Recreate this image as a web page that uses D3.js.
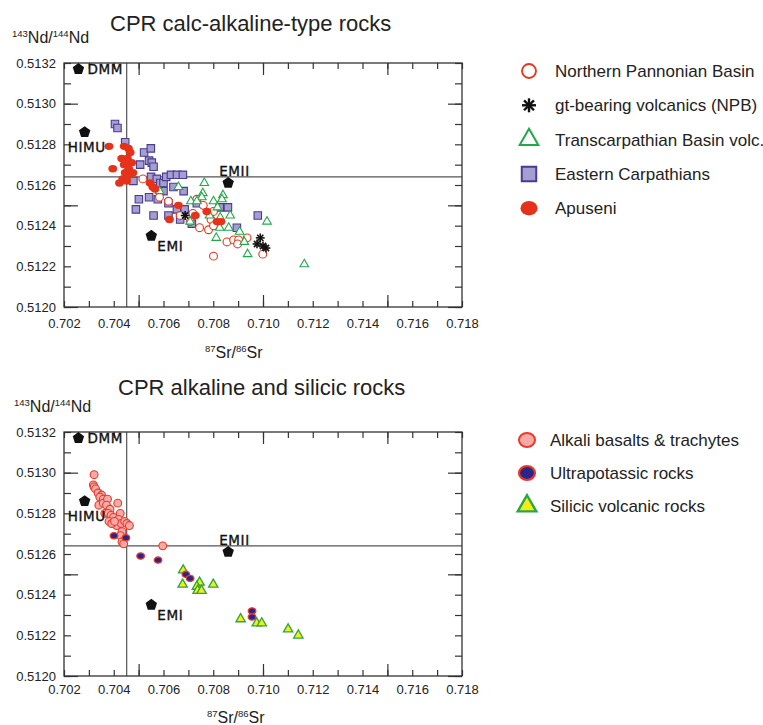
<!DOCTYPE html>
<html>
<head>
<meta charset="utf-8">
<script src="https://cdn.jsdelivr.net/npm/d3@7"></script>
<style>
  body { margin: 0; background: #fff; }
  svg { display: block; font-family: "Liberation Sans", Arial, sans-serif; }
</style>
</head>
<body>
<div id="chart"></div>
<script>
// axis labels
var xTickLabels = ['0.702', '0.704', '0.706', '0.708', '0.710', '0.712', '0.714', '0.716', '0.718'];
var yTickLabels = ['0.5120', '0.5122', '0.5124', '0.5126', '0.5128', '0.5130', '0.5132'];
var xMajorTicks = [0.705, 0.710, 0.715];
var yMajorTicks = [0.5120, 0.5125, 0.5130];
var refLineSr = 0.70452, refLineNd = 0.51264;

// mantle end-members
var refNames = ['DMM', 'HIMU', 'EMII', 'EMI'];
var refSr = [0.70258, 0.70283, 0.70860, 0.70551];
var refNd = [0.51317, 0.51286, 0.51261, 0.51235];

// top panel: [87Sr/86Sr, 143Nd/144Nd]
var northernPannonian = [
  [0.70517, 0.51263], [0.70584, 0.51254], [0.70620, 0.51252], [0.70667, 0.51245], [0.70707, 0.51242],
  [0.70734, 0.51253], [0.70745, 0.51239], [0.70781, 0.51238], [0.70801, 0.51247], [0.70791, 0.51243],
  [0.70801, 0.51240], [0.70855, 0.51232], [0.70882, 0.51233], [0.70902, 0.51233], [0.70898, 0.51231],
  [0.70936, 0.51234], [0.70999, 0.51226], [0.70801, 0.51225], [0.70718, 0.51246], [0.70760, 0.51250]
];
var gtBearing = [
  [0.70687, 0.51245], [0.70989, 0.51234], [0.70976, 0.51231], [0.71000, 0.51230], [0.71012, 0.51229]
];
var transcarpathian = [
  [0.70584, 0.51257], [0.70660, 0.51259], [0.70764, 0.51261], [0.70758, 0.51256], [0.70754, 0.51254],
  [0.70710, 0.51252], [0.70734, 0.51252], [0.70801, 0.51252], [0.70839, 0.51255], [0.70835, 0.51253],
  [0.70817, 0.51249], [0.70868, 0.51245], [0.70828, 0.51244], [0.70785, 0.51245], [0.70826, 0.51239],
  [0.70862, 0.51239], [0.70812, 0.51234], [0.70906, 0.51237], [0.70925, 0.51232], [0.70938, 0.51226],
  [0.71016, 0.51242], [0.71166, 0.51221], [0.70707, 0.51242]
];
var easternCarpathians = [
  [0.70405, 0.51290], [0.70415, 0.51288], [0.70446, 0.51281], [0.70522, 0.51276], [0.70549, 0.51278],
  [0.70542, 0.51272], [0.70553, 0.51271], [0.70560, 0.51269], [0.70506, 0.51270], [0.70479, 0.51262],
  [0.70550, 0.51264], [0.70573, 0.51263], [0.70587, 0.51261], [0.70600, 0.51261], [0.70611, 0.51264],
  [0.70630, 0.51265], [0.70654, 0.51265], [0.70678, 0.51265], [0.70640, 0.51259], [0.70681, 0.51257],
  [0.70542, 0.51254], [0.70577, 0.51253], [0.70501, 0.51253], [0.70489, 0.51248], [0.70560, 0.51245],
  [0.70620, 0.51245], [0.70620, 0.51251], [0.70654, 0.51248], [0.70685, 0.51248], [0.70667, 0.51243],
  [0.70714, 0.51241], [0.70734, 0.51251], [0.70826, 0.51249], [0.70859, 0.51249], [0.70895, 0.51239],
  [0.70979, 0.51245], [0.70600, 0.51257]
];
var apuseni = [
  [0.70381, 0.51279], [0.70396, 0.51268], [0.70423, 0.51261], [0.70442, 0.51279], [0.70459, 0.51278],
  [0.70466, 0.51276], [0.70432, 0.51273], [0.70455, 0.51273], [0.70472, 0.51271], [0.70442, 0.51270],
  [0.70460, 0.51268], [0.70477, 0.51266], [0.70446, 0.51266], [0.70466, 0.51265], [0.70436, 0.51263],
  [0.70452, 0.51262], [0.70546, 0.51261], [0.70557, 0.51259], [0.70566, 0.51258], [0.70660, 0.51250],
  [0.70624, 0.51243], [0.70728, 0.51245], [0.70774, 0.51247], [0.70815, 0.51242], [0.70831, 0.51242]
];

// bottom panel
var alkaliBasalts = [
  [0.70321, 0.51299], [0.70318, 0.51294], [0.70321, 0.51293], [0.70327, 0.51292], [0.70337, 0.51290],
  [0.70351, 0.51289], [0.70344, 0.51288], [0.70358, 0.51287], [0.70340, 0.51284], [0.70358, 0.51285],
  [0.70375, 0.51287], [0.70371, 0.51284], [0.70385, 0.51282], [0.70364, 0.51280], [0.70378, 0.51280],
  [0.70389, 0.51279], [0.70399, 0.51278], [0.70381, 0.51276], [0.70405, 0.51276], [0.70416, 0.51285],
  [0.70426, 0.51280], [0.70419, 0.51277], [0.70412, 0.51274], [0.70430, 0.51275], [0.70444, 0.51276],
  [0.70453, 0.51275], [0.70463, 0.51274], [0.70433, 0.51271], [0.70427, 0.51269], [0.70433, 0.51266],
  [0.70440, 0.51265], [0.70597, 0.51264], [0.70392, 0.51275], [0.70403, 0.51276]
];
var ultrapotassic = [
  [0.70401, 0.51269], [0.70449, 0.51268], [0.70508, 0.51259], [0.70578, 0.51257],
  [0.70690, 0.51250], [0.70707, 0.51248], [0.70956, 0.51232], [0.70956, 0.51229]
];
var silicic = [
  [0.70679, 0.51252], [0.70677, 0.51245], [0.70745, 0.51246], [0.70734, 0.51244], [0.70737, 0.51242],
  [0.70753, 0.51242], [0.70800, 0.51245], [0.70910, 0.51228], [0.70975, 0.51226], [0.70995, 0.51226],
  [0.71101, 0.51223], [0.71142, 0.51220]
];

var W = 763, H = 725;
var plotLeft = 64, plotW = 398, plotH = 244;

var svg = d3.select('#chart').append('svg')
    .attr('width', W)
    .attr('height', H)
    .style('background', '#fff');

// marker helpers
function pentagon(r) {
    var pts = d3.range(5).map(function (i) {
        var a = -Math.PI / 2 + i * 2 * Math.PI / 5;
        return [r * Math.cos(a), r * Math.sin(a)];
    });
    return 'M' + pts.join('L') + 'Z';
}
var markers = {
    openCircle: function (sel, big) {
        sel.append('circle').attr('r', big ? 7 : 3.9)
            .attr('fill', '#fff').attr('stroke', '#e8341c').attr('stroke-width', big ? 1.8 : 1.1);
    },
    star: function (sel, big) {
        var r = big ? 7 : 4.4;
        [0, 45, 90, 135].forEach(function (a) {
            var c = Math.cos(a * Math.PI / 180) * r, s = Math.sin(a * Math.PI / 180) * r;
            sel.append('line').attr('x1', -c).attr('y1', -s).attr('x2', c).attr('y2', s)
                .attr('stroke', '#111').attr('stroke-width', big ? 2.4 : 1.6);
        });
    },
    greenTriangle: function (sel, big) {
        sel.append('path').attr('d', d3.symbol(d3.symbolTriangle, big ? 150 : 32)())
            .attr('fill', '#fff').attr('stroke', '#22a84a').attr('stroke-width', big ? 2 : 1.1);
    },
    square: function (sel, big) {
        sel.append('path').attr('d', d3.symbol(d3.symbolSquare, big ? 210 : 56)())
            .attr('fill', '#a49fd2').attr('stroke', '#4b3a8e').attr('stroke-width', big ? 2 : 1.1);
    },
    redDot: function (sel, big) {
        sel.append('ellipse').attr('rx', big ? 8.5 : 4.4).attr('ry', big ? 7.2 : 3.7)
            .attr('fill', '#e6321a');
    },
    pinkCircle: function (sel, big) {
        sel.append('ellipse').attr('rx', big ? 8 : 3.9).attr('ry', big ? 7 : 3.9)
            .attr('fill', '#f5aaa8').attr('stroke', '#e8392a').attr('stroke-width', big ? 2 : 1.1);
    },
    navyDot: function (sel, big) {
        sel.append('ellipse').attr('rx', big ? 8 : 3.8).attr('ry', big ? 7 : 3.1)
            .attr('fill', '#28268a').attr('stroke', '#e8392a').attr('stroke-width', big ? 2.2 : 1.3);
    },
    yellowTriangle: function (sel, big) {
        sel.append('path').attr('d', d3.symbol(d3.symbolTriangle, big ? 150 : 38)())
            .attr('fill', '#f4ec12').attr('stroke', '#2aa548').attr('stroke-width', big ? 2.4 : 1.3);
    }
};

var labelOffsets = {
    DMM: [9, 5], HIMU: [-17, 20], EMII: [-9, -7], EMI: [6, 15]
};

function drawPanel(cfg) {
    var x = d3.scaleLinear().domain([0.702, 0.718]).range([0, plotW]);
    var y = d3.scaleLinear().domain([0.5120, 0.5132]).range([plotH, 0]);
    var minorX = d3.range(0, 17).map(function (i) { return 0.702 + i * 0.001; });
    var minorY = d3.range(0, 13).map(function (i) { return 0.5120 + i * 0.0001; });

    // title
    svg.append('text').attr('x', cfg.titleX).attr('y', cfg.top - cfg.titleDy)
        .attr('font-size', 22).attr('fill', '#222').text(cfg.title);

    // y axis title
    var yt = svg.append('text').attr('x', cfg.yTitleX).attr('y', cfg.top - 20)
        .attr('font-size', 16).attr('fill', '#222');
    yt.append('tspan').attr('font-size', 9.5).attr('dy', -6).text('143');
    yt.append('tspan').attr('dy', 6).text('Nd/');
    yt.append('tspan').attr('font-size', 9.5).attr('dy', -6).text('144');
    yt.append('tspan').attr('dy', 6).text('Nd');

    var graph = svg.append('g')
        .attr('transform', 'translate(' + plotLeft + ', ' + cfg.top + ')');

    // ticks (inward) on all four sides
    function ticks(axis, tx, ty) {
        var a = graph.append('g').attr('transform', 'translate(' + tx + ',' + ty + ')').call(axis);
        a.select('.domain').remove();
        a.selectAll('line').attr('stroke', '#333').attr('stroke-width', 1.2);
        return a;
    }
    ticks(d3.axisBottom(x).tickValues(minorX).tickSize(-6).tickFormat(''), 0, plotH);
    ticks(d3.axisTop(x).tickValues(minorX).tickSize(-6).tickFormat(''), 0, 0);
    ticks(d3.axisBottom(x).tickValues(xMajorTicks).tickSize(-12).tickFormat(''), 0, plotH);
    ticks(d3.axisTop(x).tickValues(xMajorTicks).tickSize(-12).tickFormat(''), 0, 0);
    ticks(d3.axisLeft(y).tickValues(minorY).tickSize(-7).tickFormat(''), 0, 0);
    ticks(d3.axisRight(y).tickValues(minorY).tickSize(-7).tickFormat(''), plotW, 0);
    ticks(d3.axisLeft(y).tickValues(yMajorTicks).tickSize(-14).tickFormat(''), 0, 0);
    ticks(d3.axisRight(y).tickValues(yMajorTicks).tickSize(-14).tickFormat(''), plotW, 0);

    // tick labels
    var xl = graph.append('g').attr('transform', 'translate(0,' + plotH + ')')
        .call(d3.axisBottom(x).tickValues(xTickLabels.map(Number)).tickSize(0).tickPadding(cfg.xPad)
            .tickFormat(d3.format('.3f')));
    xl.select('.domain').remove();
    xl.selectAll('text').attr('font-size', 13).attr('fill', '#222')
        .attr('font-family', '"Liberation Sans", Arial, sans-serif');
    var yl = graph.append('g')
        .call(d3.axisLeft(y).tickValues(yTickLabels.map(Number)).tickSize(0).tickPadding(8)
            .tickFormat(d3.format('.4f')));
    yl.select('.domain').remove();
    yl.selectAll('text').attr('font-size', 13).attr('fill', '#222')
        .attr('font-family', '"Liberation Sans", Arial, sans-serif');

    // x axis title
    var xt = svg.append('text').attr('x', cfg.xTitleX).attr('y', cfg.top + plotH + cfg.xTitleDy)
        .attr('font-size', 16).attr('fill', '#222');
    xt.append('tspan').attr('font-size', 9.5).attr('dy', -6).text('87');
    xt.append('tspan').attr('dy', 6).text('Sr/');
    xt.append('tspan').attr('font-size', 9.5).attr('dy', -6).text('86');
    xt.append('tspan').attr('dy', 6).text('Sr');

    // reference lines
    graph.append('line').attr('x1', x(refLineSr)).attr('x2', x(refLineSr))
        .attr('y1', 0).attr('y2', plotH).attr('stroke', '#555').attr('stroke-width', 1.2);
    graph.append('line').attr('x1', 0).attr('x2', plotW)
        .attr('y1', y(refLineNd)).attr('y2', y(refLineNd)).attr('stroke', '#555').attr('stroke-width', 1.2);

    // frame
    graph.append('rect').attr('width', plotW).attr('height', plotH)
        .attr('fill', 'none').attr('stroke', '#333').attr('stroke-width', 1.3);

    // data
    cfg.series.forEach(function (s) {
        graph.append('g').selectAll('g')
            .data(s.data)
            .enter()
            .append('g')
            .attr('transform', function (d) { return 'translate(' + x(d[0]) + ',' + y(d[1]) + ')'; })
            .each(function () { markers[s.marker](d3.select(this), false); });
    });

    // end-members
    refNames.forEach(function (name, i) {
        var px = x(refSr[i]), py = y(refNd[i]);
        graph.append('path').attr('d', pentagon(6))
            .attr('transform', 'translate(' + px + ',' + py + ')')
            .attr('fill', '#111');
        graph.append('text')
            .attr('x', px + labelOffsets[name][0])
            .attr('y', py + labelOffsets[name][1])
            .attr('font-family', '"DejaVu Sans", sans-serif')
            .attr('font-size', 13.5)
            .attr('letter-spacing', 0.6)
            .attr('fill', '#111')
            .attr('stroke', '#111')
            .attr('stroke-width', 0.35)
            .text(name);
    });

    // legend
    var leg = svg.append('g');
    cfg.series.slice().sort(function (a, b) { return a.order - b.order; }).forEach(function (s, i) {
        var ly = cfg.legendY + i * cfg.legendStep;
        var m = leg.append('g').attr('transform', 'translate(' + cfg.legendMarkerX + ',' + ly + ')');
        markers[s.marker](m, true);
        leg.append('text').attr('x', cfg.legendTextX).attr('y', ly + 6)
            .attr('font-size', 17).attr('fill', '#222').text(s.name);
    });
}

drawPanel({
    top: 63,
    title: 'CPR calc-alkaline-type rocks',
    titleX: 110,
    titleDy: 32,
    yTitleX: 12,
    xTitleX: 205,
    xTitleDy: 51,
    xPad: 12,
    legendY: 71, legendStep: 34.3, legendMarkerX: 529, legendTextX: 555,
    series: [
        { name: 'Eastern Carpathians', marker: 'square', data: easternCarpathians, order: 3 },
        { name: 'Northern Pannonian Basin', marker: 'openCircle', data: northernPannonian, order: 0 },
        { name: 'Transcarpathian Basin volc.', marker: 'greenTriangle', data: transcarpathian, order: 2 },
        { name: 'Apuseni', marker: 'redDot', data: apuseni, order: 4 },
        { name: 'gt-bearing volcanics (NPB)', marker: 'star', data: gtBearing, order: 1 }
    ]
});

drawPanel({
    top: 432,
    title: 'CPR alkaline and silicic rocks',
    titleX: 118,
    titleDy: 37,
    yTitleX: 14,
    xTitleX: 207,
    xTitleDy: 47,
    xPad: 9,
    legendY: 440, legendStep: 33, legendMarkerX: 527, legendTextX: 550,
    series: [
        { name: 'Alkali basalts & trachytes', marker: 'pinkCircle', data: alkaliBasalts, order: 0 },
        { name: 'Silicic volcanic rocks', marker: 'yellowTriangle', data: silicic, order: 2 },
        { name: 'Ultrapotassic rocks', marker: 'navyDot', data: ultrapotassic, order: 1 }
    ]
});
</script>
</body>
</html>
